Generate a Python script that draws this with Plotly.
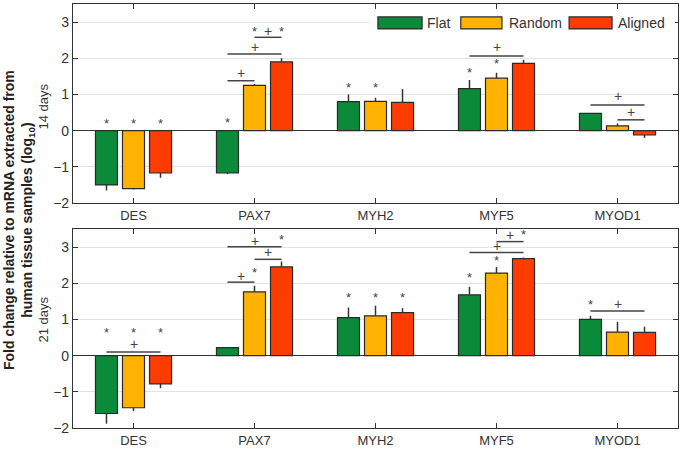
import plotly.graph_objects as go

genes = ["DES", "PAX7", "MYH2", "MYF5", "MYOD1"]
groups = ["Flat", "Random", "Aligned"]
colors = ["#0b8a3a", "#ffb300", "#ff3c00"]

# 14 days
d14_flat = [-1.50, -1.17, 0.80, 1.16, 0.48]
d14_random = [-1.60, 1.25, 0.81, 1.45, 0.13]
d14_aligned = [-1.17, 1.90, 0.78, 1.86, -0.12]
e14_flat = [0.15, 0.03, 0.20, 0.24, 0.0]
e14_random = [0.02, 0.04, 0.10, 0.15, 0.07]
e14_aligned = [0.13, 0.10, 0.37, 0.10, 0.08]

# 21 days
d21_flat = [-1.60, 0.22, 1.05, 1.68, 1.00]
d21_random = [-1.44, 1.76, 1.10, 2.28, 0.65]
d21_aligned = [-0.78, 2.45, 1.19, 2.68, 0.64]
e21_flat = [0.28, 0.0, 0.28, 0.22, 0.10]
e21_random = [0.09, 0.17, 0.28, 0.17, 0.28]
e21_aligned = [0.12, 0.15, 0.12, 0.03, 0.16]

# significance marks: (gene, bar position index, y, symbol)
sig14 = [
    ("DES", 0, 0.2, "*"), ("DES", 1, 0.2, "*"), ("DES", 2, 0.2, "*"),
    ("PAX7", 0, 0.23, "*"), ("PAX7", 0.5, 1.6, "+"), ("PAX7", 1, 2.32, "+"),
    ("PAX7", 1, 2.75, "*"), ("PAX7", 1.5, 2.75, "+"), ("PAX7", 2, 2.75, "*"),
    ("MYH2", 0, 1.18, "*"), ("MYH2", 1, 1.18, "*"),
    ("MYF5", 0, 1.6, "*"), ("MYF5", 1, 1.85, "*"), ("MYF5", 1, 2.3, "+"),
    ("MYOD1", 1, 0.95, "+"), ("MYOD1", 1.5, 0.52, "+"),
]
brk14 = [
    ("PAX7", 0, 1, 1.38), ("PAX7", 0, 2, 2.12), ("PAX7", 1, 2, 2.58),
    ("MYF5", 0, 2, 2.06), ("MYOD1", 0, 2, 0.71), ("MYOD1", 1, 2, 0.30),
]
sig21 = [
    ("DES", 0, 0.64, "*"), ("DES", 1, 0.64, "*"), ("DES", 2, 0.64, "*"), ("DES", 1, 0.32, "+"),
    ("PAX7", 0.5, 2.2, "+"), ("PAX7", 1, 2.3, "*"), ("PAX7", 1.5, 2.85, "+"),
    ("PAX7", 1, 3.18, "+"), ("PAX7", 2, 3.2, "*"),
    ("MYH2", 0, 1.6, "*"), ("MYH2", 1, 1.6, "*"), ("MYH2", 2, 1.6, "*"),
    ("MYF5", 0, 2.17, "*"), ("MYF5", 1, 2.62, "*"), ("MYF5", 1, 3.02, "+"),
    ("MYF5", 1.5, 3.34, "+"), ("MYF5", 2, 3.34, "*"),
    ("MYOD1", 0, 1.42, "*"), ("MYOD1", 1, 1.42, "+"),
]
brk21 = [
    ("DES", 0, 2, 0.10), ("PAX7", 0, 1, 2.03), ("PAX7", 1, 2, 2.66),
    ("PAX7", 0, 2, 3.01), ("MYF5", 0, 2, 2.85), ("MYF5", 1, 2, 3.15),
    ("MYOD1", 0, 2, 1.23),
]

FONT = "Liberation Sans, Arial, sans-serif"
BARGAP = 0.33
SLOT = (1 - BARGAP) / 3


def xpos(gene, bar):
    return genes.index(gene) + (bar - 1) * SLOT


fig = go.Figure()

panels = [
    ("x", "y", [d14_flat, d14_random, d14_aligned], [e14_flat, e14_random, e14_aligned], sig14, brk14),
    ("x2", "y2", [d21_flat, d21_random, d21_aligned], [e21_flat, e21_random, e21_aligned], sig21, brk21),
]

annotations = []
shapes = []
for xa, ya, vals, errs, sig, brk in panels:
    for g, v, e, c in zip(groups, vals, errs, colors):
        plus = [ee if vv >= 0 else 0 for vv, ee in zip(v, e)]
        minus = [ee if vv < 0 else 0 for vv, ee in zip(v, e)]
        fig.add_trace(go.Bar(
            x=list(range(len(genes))), y=v, name=g, xaxis=xa, yaxis=ya,
            marker=dict(color=c, line=dict(color="#2a2a2a", width=1.2)),
            error_y=dict(type="data", symmetric=False, array=plus, arrayminus=minus,
                         color="#333333", thickness=1.5, width=0),
            showlegend=False,
        ))
    for gene, b, y, s in sig:
        annotations.append(dict(
            x=xpos(gene, b), y=y, xref=xa, yref=ya, text=s, showarrow=False,
            font=dict(family=FONT, size=14 if s == "+" else 13, color="#444444"),
            xanchor="center", yanchor="middle",
        ))
    for gene, b0, b1, y in brk:
        shapes.append(dict(
            type="line", xref=xa, yref=ya, x0=xpos(gene, b0), x1=xpos(gene, b1),
            y0=y, y1=y, line=dict(color="#444444", width=1.5),
        ))

# custom legend in the top panel
shapes.append(dict(type="rect", xref="x domain", yref="y domain",
                   x0=0.49, x1=0.995, y0=0.855, y1=0.955,
                   fillcolor="white", line=dict(width=0), layer="above"))
leg_boxes = [(0.504, 0.577, 0.582), (0.641, 0.709, 0.717), (0.820, 0.891, 0.898)]
for (x0, x1, xt), g, c in zip(leg_boxes, groups, colors):
    shapes.append(dict(type="rect", xref="x domain", yref="y domain",
                       x0=x0, x1=x1, y0=0.875, y1=0.935, fillcolor=c,
                       line=dict(color="#2a2a2a", width=1.2), layer="above"))
    annotations.append(dict(x=xt, y=0.905, xref="x domain", yref="y domain",
                            text=g, showarrow=False, xanchor="left", yanchor="middle",
                            font=dict(family=FONT, size=14, color="#333333")))

# panel titles and main y title
annotations.append(dict(x=(44 - 73) / 605, y=(429 - 106) / 426, xref="paper", yref="paper",
                        text="14 days", textangle=-90, showarrow=False,
                        xanchor="center", yanchor="middle",
                        font=dict(family=FONT, size=13, color="#333333")))
annotations.append(dict(x=(44 - 73) / 605, y=(429 - 320) / 426, xref="paper", yref="paper",
                        text="21 days", textangle=-90, showarrow=False,
                        xanchor="center", yanchor="middle",
                        font=dict(family=FONT, size=13, color="#333333")))
annotations.append(dict(x=(19 - 73) / 605, y=(429 - 220) / 426, xref="paper", yref="paper",
                        text="<b>Fold change relative to mRNA extracted from</b><br><b>human tissue samples (log<sub>10</sub>)</b>",
                        textangle=-90, showarrow=False, xanchor="center", yanchor="middle",
                        font=dict(family=FONT, size=14, color="#222222")))

xaxis_common = dict(
    tickmode="array", tickvals=list(range(len(genes))), ticktext=genes,
    range=[-0.5, len(genes) - 0.5], showline=True, mirror="ticks", linecolor="#333333",
    linewidth=1.2, ticks="inside", ticklen=5, tickcolor="#333333", showgrid=False,
    tickfont=dict(family=FONT, size=13, color="#333333"), zeroline=False,
)
yaxis_common = dict(
    range=[-2, 3.5], tickvals=[-2, -1, 0, 1, 2, 3], showline=True, mirror="ticks",
    linecolor="#333333", linewidth=1.2, ticks="inside", ticklen=5, tickcolor="#333333",
    showgrid=True, gridcolor="#e3e3e3", gridwidth=1, zeroline=True, zerolinecolor="#333333",
    zerolinewidth=1.2, tickfont=dict(family=FONT, size=14, color="#333333"),
)

fig.update_layout(
    width=685, height=451,
    margin=dict(l=73, r=7, t=3, b=22),
    plot_bgcolor="white", paper_bgcolor="white",
    barmode="group", bargap=BARGAP, bargroupgap=0.185,
    xaxis=dict(domain=[0, 1], anchor="y", **xaxis_common),
    yaxis=dict(domain=[226 / 426, 1], anchor="x", **yaxis_common),
    xaxis2=dict(domain=[0, 1], anchor="y2", **xaxis_common),
    yaxis2=dict(domain=[0, 200 / 426], anchor="x2", **yaxis_common),
    annotations=annotations, shapes=shapes,
    showlegend=False,
)

fig.write_html(
    "out.html",
    config={"displayModeBar": False},
    post_script="document.body.style.margin='0';document.body.style.overflow='hidden';",
)
